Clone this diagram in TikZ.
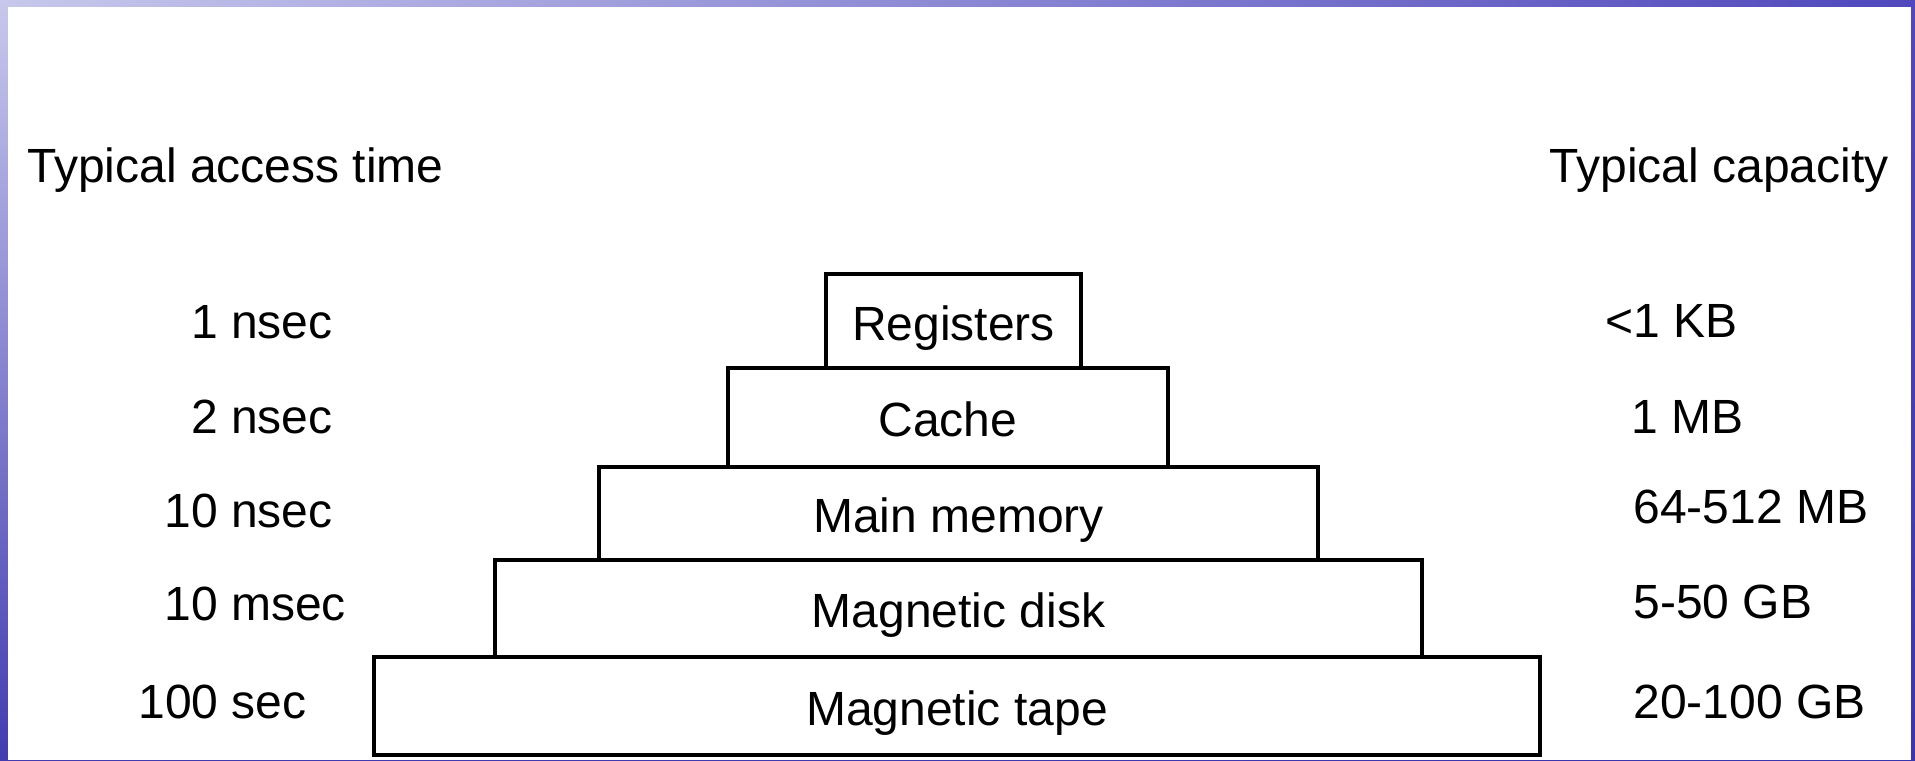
\documentclass[tikz,border=0pt]{standalone}
\usepackage{fontspec}
\setmainfont{Liberation Sans}
\usetikzlibrary{positioning,shadings}

\definecolor{frameLight}{RGB}{200,200,236}
\definecolor{frameTop}{RGB}{80,72,188}
\definecolor{frameLeft}{RGB}{66,60,176}
\definecolor{frameDark}{RGB}{56,54,174}

\begin{document}
\begin{tikzpicture}[x=0.5pt, y=-0.5pt,
    every node/.style={font=\fontsize{24pt}{28pt}\selectfont, inner sep=0pt},
    level/.style={draw, line width=2.3pt, text height=19pt, text depth=0pt}]

  \useasboundingbox (0,0) rectangle (1915,760);
  \shade[upper left=frameLight, upper right=frameTop,
         lower left=frameLeft, lower right=frameDark] (0,0) rectangle (1915,760);
  \fill[white] (8,7) rectangle (1911,760);

  \node (regs) [level, minimum width=127.5pt, minimum height=47pt] at (953.5,321) {Registers};
  \node (cache) [level, minimum width=220pt, minimum height=49.5pt] at (948,417.5) {Cache};
  \node (main) [level, minimum width=359.5pt, minimum height=46.5pt] at (958.5,513.5) {Main memory};
  \node (disk) [level, minimum width=463.5pt, minimum height=48.5pt] at (958.5,608.5) {Magnetic disk};
  \node (tape) [level, minimum width=583pt, minimum height=49pt] at (957,706) {Magnetic tape};

  \node (timehead) [anchor=base west] at (27,182) {Typical access time};
  \node (caphead) [anchor=base east] at (1889,182) {Typical capacity};

  \node (t1) [anchor=base east] at (333,338) {1 nsec};
  \node (t2) [anchor=base east] at (333,433) {2 nsec};
  \node (t3) [anchor=base east] at (333,527) {10 nsec};
  \node (t4) [anchor=base west] at (164,620) {10 msec};
  \node (t5) [anchor=base west] at (138,718) {100 sec};

  \node (c1) [anchor=base west] at (1605,337) {<1 KB};
  \node (c2) [anchor=base west] at (1631,433) {1 MB};
  \node (c3) [anchor=base west] at (1633,523) {64-512 MB};
  \node (c4) [anchor=base west] at (1633,618) {5-50 GB};
  \node (c5) [anchor=base west] at (1633,718) {20-100 GB};

\end{tikzpicture}
\end{document}
